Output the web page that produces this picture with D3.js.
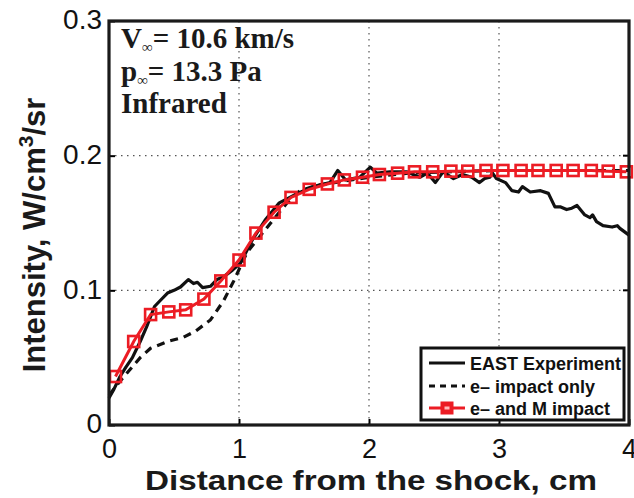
<!DOCTYPE html>
<html>
<head>
<meta charset="utf-8">
<script src="https://cdn.jsdelivr.net/npm/d3@7"></script>
<style>
  html, body { margin: 0; padding: 0; background: #fff; }
  svg { display: block; }
</style>
</head>
<body>
<svg id="chart" width="634" height="498"></svg>
<script>
// Measured emission profile (EAST shock tube)
const eastX = [0, 0.04, 0.085, 0.13, 0.18, 0.24, 0.29, 0.35, 0.40, 0.45, 0.50, 0.55, 0.61, 0.65, 0.68, 0.72, 0.78, 0.83, 0.88, 0.95, 1.01, 1.10, 1.20, 1.31, 1.45, 1.57, 1.70, 1.76, 1.82, 1.93, 2.01, 2.06, 2.16, 2.29, 2.39, 2.45, 2.51, 2.57, 2.65, 2.72, 2.79, 2.85, 2.89, 2.93, 2.95, 2.98, 3.05, 3.10, 3.15, 3.18, 3.24, 3.32, 3.38, 3.43, 3.47, 3.52, 3.56, 3.60, 3.66, 3.70, 3.72, 3.75, 3.80, 3.87, 3.91, 3.93, 4.00];
const eastY = [0.020, 0.027, 0.036, 0.043, 0.050, 0.062, 0.073, 0.088, 0.093, 0.098, 0.100, 0.1025, 0.108, 0.105, 0.106, 0.102, 0.103, 0.108, 0.110, 0.115, 0.120, 0.137, 0.152, 0.165, 0.172, 0.177, 0.180, 0.189, 0.182, 0.184, 0.1915, 0.187, 0.188, 0.188, 0.184, 0.187, 0.180, 0.188, 0.183, 0.186, 0.184, 0.180, 0.183, 0.184, 0.187, 0.183, 0.180, 0.174, 0.173, 0.177, 0.173, 0.174, 0.172, 0.162, 0.162, 0.160, 0.161, 0.163, 0.156, 0.154, 0.156, 0.151, 0.148, 0.147, 0.148, 0.146, 0.141];

// Simulation with electron-impact excitation only
const eImpX = [0, 0.08, 0.16, 0.24, 0.32, 0.45, 0.57, 0.67, 0.78, 0.88, 0.96, 1.06, 1.16, 1.26, 1.37, 1.47, 1.60, 1.80, 2.00, 2.30, 2.60, 3.00, 3.50, 4.00];
const eImpY = [0.022, 0.032, 0.041, 0.050, 0.057, 0.062, 0.065, 0.070, 0.078, 0.092, 0.107, 0.128, 0.140, 0.152, 0.165, 0.174, 0.178, 0.181, 0.184, 0.187, 0.188, 0.189, 0.189, 0.189];

// Simulation with electron- and heavy-particle-impact excitation
const emX = [0.05, 0.19, 0.32, 0.46, 0.59, 0.73, 0.86, 1.00, 1.13, 1.27, 1.40, 1.54, 1.68, 1.81, 1.95, 2.08, 2.22, 2.35, 2.49, 2.63, 2.76, 2.90, 3.03, 3.17, 3.30, 3.44, 3.57, 3.71, 3.84, 3.98];
const emY = [0.036, 0.062, 0.082, 0.084, 0.0855, 0.0935, 0.107, 0.1225, 0.1425, 0.158, 0.169, 0.175, 0.179, 0.182, 0.184, 0.186, 0.187, 0.188, 0.188, 0.1885, 0.1885, 0.189, 0.189, 0.189, 0.189, 0.189, 0.189, 0.189, 0.1885, 0.188];

const xTicks = [0, 1, 2, 3, 4];
const yTicks = [0, 0.1, 0.2, 0.3];
const yTickLabels = ["0", "0.1", "0.2", "0.3"];
const legendLabels = ["EAST Experiment", "e\u2013 impact only", "e\u2013 and M impact"];
const noteLines = [["V", "\u221e", "= 10.6 km/s"], ["p", "\u221e", "= 13.3 Pa"], ["Infrared", "", ""]];

const svg = d3.select("#chart");
const L = 109, R = 629, T = 21, B = 425;
const x = d3.scaleLinear().domain([0, 4]).range([L, R]);
const y = d3.scaleLinear().domain([0, 0.3]).range([B, T]);
const red = "#ec1c24";
const sans = "'Liberation Sans', Arial, Helvetica, sans-serif";
const serif = "'Liberation Serif', 'Times New Roman', serif";

// dotted grid
const grid = svg.append("g").attr("stroke", "#555").attr("stroke-width", 1.2).attr("stroke-dasharray", "1.5,4.5");
grid.selectAll("line.gx").data(xTicks.slice(1, -1)).join("line")
  .attr("x1", d => x(d)).attr("x2", d => x(d)).attr("y1", T).attr("y2", B);
grid.selectAll("line.gy").data(yTicks.slice(1, -1)).join("line")
  .attr("y1", d => y(d)).attr("y2", d => y(d)).attr("x1", L).attr("x2", R);

// axes with inward ticks and labels
const xAxis = d3.axisBottom(x).tickValues(xTicks).tickSizeInner(-6).tickSizeOuter(0).tickPadding(13).tickFormat(d3.format("d"));
const gx = svg.append("g").attr("transform", `translate(0,${B})`).call(xAxis);
gx.select(".domain").remove();
gx.selectAll(".tick line").attr("stroke", "#000").attr("stroke-width", 2);
gx.selectAll(".tick text").attr("font-family", sans).attr("font-size", 27).attr("fill", "#111").attr("dy", "0.74em");

const yAxis = d3.axisLeft(y).tickValues(yTicks).tickSizeInner(-6).tickSizeOuter(0).tickPadding(7).tickFormat((d, i) => yTickLabels[i]);
const gy = svg.append("g").attr("transform", `translate(${L},0)`).call(yAxis);
gy.select(".domain").remove();
gy.selectAll(".tick line").attr("stroke", "#000").attr("stroke-width", 2);
gy.selectAll(".tick text").attr("font-family", sans).attr("font-size", 28).attr("fill", "#111").attr("dy", "0.28em");

// right-side ticks
svg.append("g").selectAll("line").data(yTicks).join("line")
  .attr("x1", R).attr("x2", R - 6).attr("y1", d => y(d)).attr("y2", d => y(d))
  .attr("stroke", "#000").attr("stroke-width", 2);

// curves
const line = d3.line().x(d => x(d[0])).y(d => y(d[1]));
const eastPts = eastX.map((v, i) => [v, eastY[i]]);
const eImpPts = eImpX.map((v, i) => [v, eImpY[i]]);
const emPts = emX.map((v, i) => [v, emY[i]]);

svg.append("path").datum(eImpPts).attr("d", line).attr("fill", "none")
  .attr("stroke", "#111").attr("stroke-width", 3.2).attr("stroke-dasharray", "8,6");
svg.append("path").datum(eastPts).attr("d", line).attr("fill", "none")
  .attr("stroke", "#111").attr("stroke-width", 3.2).attr("stroke-linejoin", "round");
svg.append("path").datum(emPts).attr("d", line).attr("fill", "none")
  .attr("stroke", red).attr("stroke-width", 3);
svg.append("g").selectAll("rect").data(emPts).join("rect")
  .attr("x", d => x(d[0]) - 5.5).attr("y", d => y(d[1]) - 5.5)
  .attr("width", 11).attr("height", 11)
  .attr("fill", "none").attr("stroke", red).attr("stroke-width", 2.6);

// plot frame
svg.append("rect").attr("x", L).attr("y", T).attr("width", R - L).attr("height", B - T)
  .attr("fill", "none").attr("stroke", "#1a1a1a").attr("stroke-width", 3.2);

// conditions note
const note = svg.append("g").attr("font-family", serif).attr("font-weight", "bold").attr("fill", "#1a1a1a");
noteLines.forEach((parts, i) => {
  const t = note.append("text").attr("x", 121).attr("y", 48 + i * 32.5).attr("font-size", 29);
  t.append("tspan").text(parts[0]);
  if (parts[1]) {
    t.append("tspan").attr("font-size", 15).attr("dy", 4).text(parts[1]);
    t.append("tspan").attr("dy", -4).text(parts[2]);
  }
});

// legend
const lg = svg.append("g");
lg.append("rect").attr("x", 421).attr("y", 348).attr("width", 203).attr("height", 72)
  .attr("fill", "#fff").attr("stroke", "#111").attr("stroke-width", 3);
const rowY = [363, 386, 408];
const sx1 = 429, sx2 = 465;
lg.append("line").attr("x1", sx1).attr("x2", sx2).attr("y1", rowY[0]).attr("y2", rowY[0])
  .attr("stroke", "#111").attr("stroke-width", 3);
lg.append("line").attr("x1", sx1).attr("x2", sx2).attr("y1", rowY[1]).attr("y2", rowY[1])
  .attr("stroke", "#111").attr("stroke-width", 3).attr("stroke-dasharray", "6,5");
lg.append("line").attr("x1", sx1).attr("x2", sx2).attr("y1", rowY[2]).attr("y2", rowY[2])
  .attr("stroke", red).attr("stroke-width", 3);
lg.append("rect").attr("x", (sx1 + sx2) / 2 - 5.5).attr("y", rowY[2] - 5.5).attr("width", 11).attr("height", 11)
  .attr("fill", red).attr("stroke", red).attr("stroke-width", 2);
lg.append("rect").attr("x", (sx1 + sx2) / 2 - 2.5).attr("y", rowY[2] - 1.5).attr("width", 5).attr("height", 3)
  .attr("fill", "#fbb");
lg.selectAll("text").data(legendLabels).join("text")
  .attr("x", 470).attr("y", (d, i) => rowY[i] + 7)
  .attr("font-family", sans).attr("font-weight", "bold").attr("font-size", 18).attr("fill", "#111")
  .text(d => d);

// axis titles
svg.append("text").attr("x", 371).attr("y", 490).attr("text-anchor", "middle")
  .attr("font-family", sans).attr("font-weight", "bold").attr("font-size", 28.5).attr("fill", "#1a1a1a")
  .attr("textLength", 452).attr("lengthAdjust", "spacingAndGlyphs")
  .text("Distance from the shock, cm");

const yt = svg.append("text").attr("transform", "translate(45,235) rotate(-90)").attr("text-anchor", "middle")
  .attr("font-family", sans).attr("font-weight", "bold").attr("font-size", 31).attr("fill", "#1a1a1a");
yt.append("tspan").text("Intensity, W/cm");
yt.append("tspan").attr("font-size", 21).attr("dy", -12).text("3");
yt.append("tspan").attr("dy", 12).text("/sr");
</script>
</body>
</html>
